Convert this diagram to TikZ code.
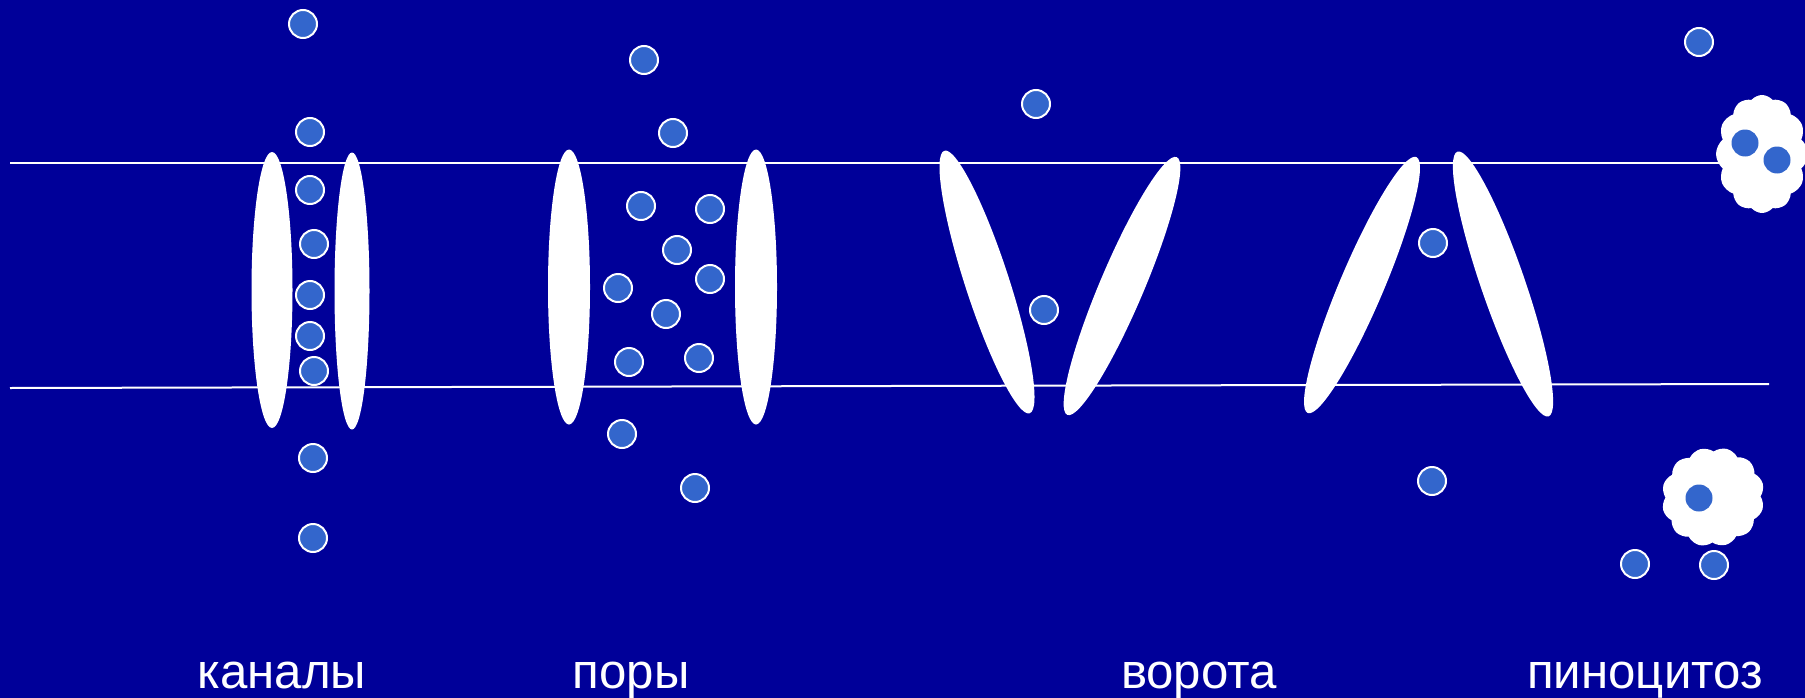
\documentclass[tikz,border=0pt]{standalone}
\usepackage{fontspec}
\setmainfont{Liberation Sans}
\usetikzlibrary{shapes.geometric,shapes.symbols}
\definecolor{plasma}{RGB}{0,0,153}
\definecolor{ionblue}{RGB}{51,102,204}
\tikzset{
    membrane/.style={draw=white, line width=0.2mm},
    lipid/.style={ellipse, fill=white, inner sep=0pt, minimum width=4.2mm, minimum height=27.6mm},
    ion/.style={circle, fill=ionblue, draw=white, line width=0.2mm, inner sep=0pt, minimum size=2.8mm},
    cargo/.style={circle, fill=ionblue, inner sep=0pt, minimum size=2.7mm},
    vesicle/.style={cloud, cloud puffs=12, cloud puff arc=100, fill=white, inner sep=0pt},
    caption/.style={text=white, font=\fontsize{14pt}{16pt}\selectfont, anchor=base}
}

\begin{document}
\begin{tikzpicture}[x=0.1mm, y=-0.1mm]

% background and the two membrane lines
\useasboundingbox (0,0) rectangle (1805,698);
\clip (0,0) rectangle (1805,698);
\fill[plasma] (0,0) rectangle (1805,698);
\draw[membrane] (10,163) -- (1720,163);
\draw[membrane] (10,388) -- (1769,384);

% channels
\node[lipid, minimum width=4.1mm] (ch1) at (272,290) {};
\node[lipid, minimum width=3.5mm, minimum height=27.7mm] (ch2) at (352,291) {};
\foreach \x/\y [count=\i] in {303/24, 310/132, 310/190, 314/244, 310/295,
        310/336, 314/371, 313/458, 313/538}
    \node[ion] (chion\i) at (\x,\y) {};

% pores
\node[lipid, minimum height=27.5mm] (po1) at (569,287) {};
\node[lipid, minimum height=27.5mm] (po2) at (756,287) {};
\foreach \x/\y [count=\i] in {644/60, 673/133, 641/206, 710/209, 677/250, 710/279,
        618/288, 666/314, 629/362, 699/358, 622/434, 695/488}
    \node[ion] (poion\i) at (\x,\y) {};

% gates, closed at the bottom
\node[lipid, minimum width=4.4mm, rotate=18] (ga1) at (987,282) {};
\node[lipid, minimum width=4.4mm, minimum height=28mm, rotate=-23] (ga2) at (1122,286) {};
\node[ion] (gaion1) at (1036,104) {};
\node[ion] (gaion2) at (1044,310) {};

% gates, closed at the top
\node[lipid, minimum width=4.4mm, minimum height=27.8mm, rotate=-23] (gb1) at (1362,285) {};
\node[lipid, minimum width=4.4mm, minimum height=28mm, rotate=19] (gb2) at (1503,284) {};
\node[ion] (gbion1) at (1433,243) {};
\node[ion] (gbion2) at (1432,481) {};

% pinocytosis
\node[ion] (pnion1) at (1699,42) {};
\node[vesicle, minimum width=9.2mm, minimum height=11.8mm] (ves1) at (1762,154) {};
\node[cargo] (cg1) at (1745,143) {};
\node[cargo] (cg2) at (1777,160) {};
\node[vesicle, minimum width=10.3mm, minimum height=9.9mm, rotate=15] (ves2) at (1713,497) {};
\node[cargo] (cg3) at (1699,498) {};
\node[ion] (pnion2) at (1635,564) {};
\node[ion] (pnion3) at (1714,565) {};

% captions
\node[caption] (capch) at (282,688) {каналы};
\node[caption] (cappo) at (631,688) {поры};
\node[caption] (capga) at (1199,688) {ворота};
\node[caption] (cappn) at (1645,688) {пиноцитоз};
\end{tikzpicture}
\end{document}
